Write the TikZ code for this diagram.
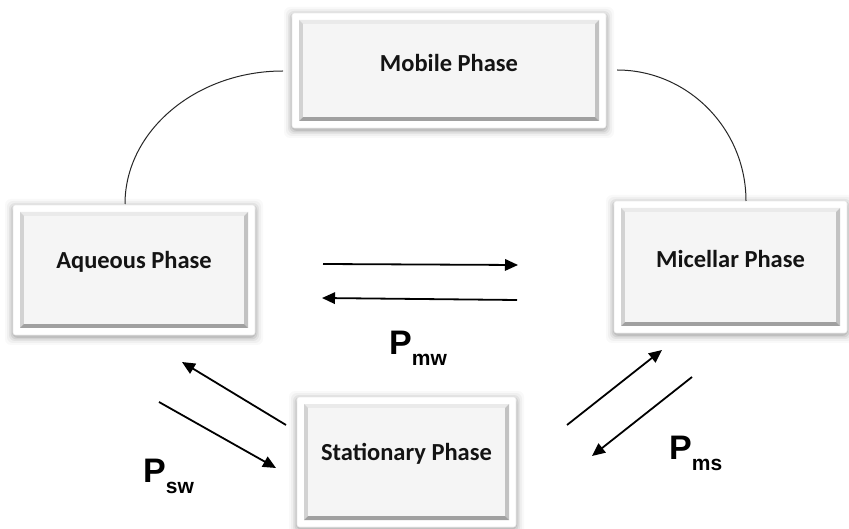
\documentclass[tikz,border=0pt]{standalone}
\usepackage{fontspec}
\setmainfont{Carlito}
\newfontfamily\arialfont{Liberation Sans}
\usetikzlibrary{calc,fit,arrows.meta}
\definecolor{facegray}{HTML}{F5F5F5}
\definecolor{bevtopc}{HTML}{EAEAEA}
\definecolor{bevleftc}{HTML}{D2D2D2}
\definecolor{bevrightc}{HTML}{C2C2C2}
\definecolor{bevbotc}{HTML}{A0A0A0}
\tikzset{
  phaseframe/.style={inner sep=0pt, rounded corners=2.5pt, fill=white, draw=black!7, line width=0.6pt},
  phaselabel/.style={inner sep=0pt, font=\bfseries\fontsize{24.5}{28}\selectfont, text=black!92},
  plabel/.style={inner sep=0pt, anchor=base west, font=\arialfont\bfseries},
  link/.style={line width=1pt, black!85},
  flow/.style={line width=1.8pt, -{Triangle[length=13pt,width=11.5pt]}},
}
\newcommand{\phasebox}[6]{%
  \foreach \s/\o in {8/0.025,6/0.035,4/0.05,2.5/0.07,1/0.09}{
    \fill[black,opacity=\o,rounded corners=6pt] (#2-\s,#3-\s+2) rectangle (#4+\s,#5+\s+2);
  }
  \node[phaseframe, fit={(#2,#3) (#4,#5)}] (#1) {};
  \fill[bevtopc]   (#2+7,#3+7) -- (#4-7,#3+7) -- (#4-11,#3+11) -- (#2+11,#3+11) -- cycle;
  \fill[bevleftc]  (#2+7,#3+7) -- (#2+11,#3+11) -- (#2+11,#5-11) -- (#2+7,#5-7) -- cycle;
  \fill[bevrightc] (#4-7,#3+7) -- (#4-11,#3+11) -- (#4-11,#5-11) -- (#4-7,#5-7) -- cycle;
  \fill[bevbotc]   (#2+7,#5-7) -- (#2+11,#5-11) -- (#4-11,#5-11) -- (#4-7,#5-7) -- cycle;
  \fill[facegray] (#2+11,#3+11) rectangle (#4-11,#5-11);
  \node[phaselabel] (#1-t) at ($(#1.center)+(0,-8)$) {#6};
}
\newcommand{\Psub}[2]{{\fontsize{34}{34}\selectfont #1}\raisebox{-11pt}{\fontsize{21}{21}\selectfont #2}}
\begin{document}
\begin{tikzpicture}[x=1pt,y=-1pt]
\useasboundingbox (0,0) rectangle (849,529);
\fill[white] (0,0) rectangle (849,529);

% connectors between boxes (arcs)
\coordinate (la1) at (125,204);
\coordinate (la2) at (283,71);
\coordinate (ra1) at (617,70);
\coordinate (ra2) at (746,201);

\phasebox{mob}{292}{13}{606}{128}{Mobile Phase}
\phasebox{aq}{13}{205}{255}{335}{Aqueous Phase}
\phasebox{mic}{614}{201}{847}{333}{Micellar Phase}
\phasebox{sta}{297}{397}{516}{527}{Stationary Phase}

\draw[link] (la1) .. controls +(0,-73) and +(-87,0) .. (la2);
\draw[link] (ra1) .. controls +(71,0) and +(0,-72) .. (ra2);

% partition arrows
\coordinate (h1a) at (323,264);
\coordinate (h1b) at (518,265);
\coordinate (h2a) at (517,300);
\coordinate (h2b) at (322,298);
\draw[flow] (h1a) -- (h1b);
\draw[flow] (h2a) -- (h2b);

\coordinate (l1a) at (286,425);
\coordinate (l1b) at (182,362);
\coordinate (l2a) at (159,402);
\coordinate (l2b) at (276,468);
\draw[flow] (l1a) -- (l1b);
\draw[flow] (l2a) -- (l2b);

\coordinate (r1a) at (567,425);
\coordinate (r1b) at (662,350);
\coordinate (r2a) at (692,377);
\coordinate (r2b) at (592,456);
\draw[flow] (r1a) -- (r1b);
\draw[flow] (r2a) -- (r2b);

% labels
\node[plabel] (pmw) at (389,355) {\Psub{P}{mw}};
\node[plabel] (psw) at (143,482) {\Psub{P}{sw}};
\node[plabel] (pms) at (669,459) {\Psub{P}{ms}};
\end{tikzpicture}
\end{document}
